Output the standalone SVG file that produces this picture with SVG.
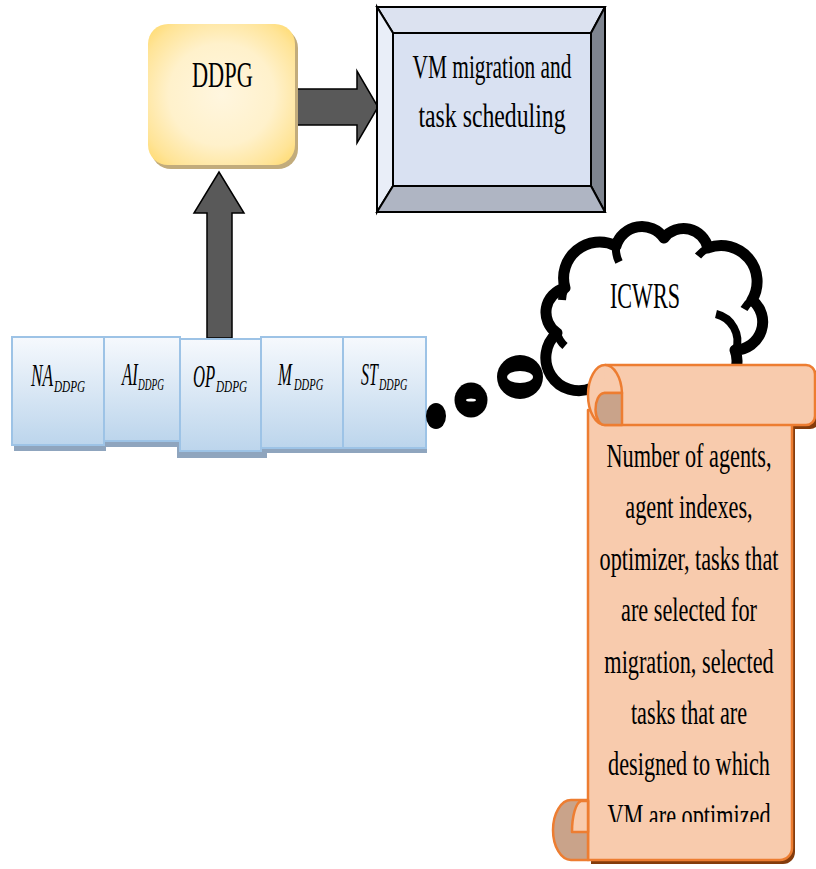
<svg xmlns="http://www.w3.org/2000/svg" width="816" height="869" viewBox="0 0 816 869">
  <style>
    .lbl { font-family: "Liberation Serif", "Times New Roman", serif; fill: #000; }
    .it { font-style: italic; }
    .mid { text-anchor: middle; }
    .cell { stroke: #9DC3E6; stroke-width: 2; fill: url(#cellFill); }
    .cellShadow { fill: #8FA5BE; }
    .bigArrow { fill: #595959; stroke: #000; stroke-width: 1.5; stroke-linejoin: miter; }
    .bevel { stroke: #000; stroke-width: 2; stroke-linejoin: miter; }
    .scroll { fill: #F8CBAD; stroke: #ED7D31; stroke-width: 2.5; stroke-linejoin: round; }
    .curl { fill: #C9A38A; stroke: #ED7D31; stroke-width: 2.5; stroke-linejoin: round; }
    .scrollShadow { fill: #843C0C; }
    .cloud { fill: #fff; stroke: #000; stroke-width: 11; stroke-linejoin: round; }
    .cloudInner { fill: none; stroke: #000; stroke-width: 8; stroke-linecap: butt; }
  </style>
  <defs>
    <linearGradient id="cellFill" x1="0" y1="0" x2="0" y2="1">
      <stop offset="0" stop-color="#F6F9FD"/>
      <stop offset="1" stop-color="#BCD5EC"/>
    </linearGradient>
    <radialGradient id="goldFill" cx="0.5" cy="0.5" r="0.72">
      <stop offset="0" stop-color="#FFF6DF"/>
      <stop offset="0.5" stop-color="#FFF1CB"/>
      <stop offset="0.8" stop-color="#FFE497"/>
      <stop offset="1" stop-color="#FFD762"/>
    </radialGradient>
    <clipPath id="scrollText">
      <rect x="588" y="430" width="204" height="392"/>
    </clipPath>
  </defs>

  <!-- connectors: block arrows -->
  <g id="connectors">
    <path class="bigArrow" d="M207,338 V213 H194 L219,172 L244,213 H232 V338 Z"/>
    <path class="bigArrow" d="M294,89 H357 V71 L378,107 L357,143 V125 H294 Z"/>
  </g>

  <!-- DDPG block -->
  <g id="ddpg">
    <rect x="151" y="28" width="147" height="141" rx="20" fill="#C2AC7C"/>
    <rect x="148" y="24" width="147" height="141" rx="20" fill="url(#goldFill)"/>
    <text class="lbl" transform="translate(192,87) scale(0.62,1)" font-size="36">DDPG</text>
  </g>

  <!-- VM migration block (bevelled frame) -->
  <g id="vm">
    <polygon class="bevel" points="377,7 605,7 591,33 393,33" fill="#DCE2F0"/>
    <polygon class="bevel" points="377,7 393,33 393,186 377,212" fill="#E9EEF8"/>
    <polygon class="bevel" points="605,7 605,212 591,186 591,33" fill="#7E848F"/>
    <polygon class="bevel" points="377,212 393,186 591,186 605,212" fill="#AFB5C3"/>
    <rect class="bevel" x="393" y="33" width="198" height="153" fill="#D9E1F2"/>
    <text class="lbl mid" transform="translate(492,78) scale(0.647,1)" font-size="33">VM migration and</text>
    <text class="lbl mid" transform="translate(492,127) scale(0.72,1)" font-size="33">task scheduling</text>
  </g>

  <!-- drop shadows of the parameter cells -->
  <g id="cell-shadows">
    <rect class="cellShadow" x="14" y="343" width="92" height="108"/>
    <rect class="cellShadow" x="106" y="343" width="76" height="104"/>
    <rect class="cellShadow" x="177" y="346" width="90" height="112"/>
    <rect class="cellShadow" x="263" y="343" width="82" height="110"/>
    <rect class="cellShadow" x="345" y="343" width="82" height="110"/>
  </g>
  <g id="cell-na">
    <rect class="cell" x="12" y="337" width="92" height="108"/>
    <text class="lbl it" transform="translate(31,386) scale(0.54,1)" font-size="32">NA</text>
    <text class="lbl it" transform="translate(54,392) scale(0.66,1)" font-size="17">DDPG</text>
  </g>
  <g id="cell-ai">
    <rect class="cell" x="104" y="337" width="76" height="104"/>
    <text class="lbl it" transform="translate(122,385) scale(0.52,1)" font-size="32">AI</text>
    <text class="lbl it" transform="translate(138,390) scale(0.55,1)" font-size="17">DDPG</text>
  </g>
  <g id="cell-op">
    <rect class="cell" x="180" y="339" width="81" height="112"/>
    <text class="lbl it" transform="translate(193,387) scale(0.52,1)" font-size="32">OP</text>
    <text class="lbl it" transform="translate(216,392) scale(0.66,1)" font-size="17">DDPG</text>
  </g>
  <g id="cell-m">
    <rect class="cell" x="261" y="337" width="82" height="111"/>
    <text class="lbl it" transform="translate(278,385) scale(0.52,1)" font-size="32">M</text>
    <text class="lbl it" transform="translate(294,390) scale(0.62,1)" font-size="17">DDPG</text>
  </g>
  <g id="cell-st">
    <rect class="cell" x="343" y="337" width="83" height="111"/>
    <text class="lbl it" transform="translate(361,385) scale(0.5,1)" font-size="32">ST</text>
    <text class="lbl it" transform="translate(379,390) scale(0.6,1)" font-size="17">DDPG</text>
  </g>

  <!-- thought bubble -->
  <g id="icwrs">
    <ellipse cx="436" cy="416" rx="10" ry="13" fill="#000"/>
    <ellipse cx="471" cy="400" rx="16.5" ry="17.5" fill="#000"/>
    <ellipse cx="471" cy="400" rx="5" ry="1.6" fill="#fff"/>
    <ellipse cx="520" cy="377" rx="23" ry="22" fill="#000"/>
    <ellipse cx="520" cy="377" rx="13" ry="6" fill="#fff"/>
    <path class="cloud" d="M592,388 A33,33 0 0 1 557,333 A25,25 0 0 1 565,288 A36,36 0 0 1 616,246 A27,27 0 0 1 664,238 A25,25 0 0 1 708,248 A36,36 0 0 1 752,300 A28,28 0 0 1 735,350 A30,30 0 0 1 700,390 A70,70 0 0 1 592,388 Z"/>
    <path class="cloudInner" d="M716,314 A28,28 0 0 1 736,350" stroke-width="11"/>
    <path class="cloudInner" d="M557,333 A25,25 0 0 0 565,346"/>
    <path class="cloudInner" d="M565,288 A30,30 0 0 0 562,300"/>
    <path class="cloudInner" d="M616,246 A30,30 0 0 0 619,262"/>
    <path class="cloudInner" d="M708,248 A30,30 0 0 0 698,256"/>
    <path class="cloudInner" d="M752,300 A30,30 0 0 0 744,309"/>
    <text class="lbl" transform="translate(610,308) scale(0.614,1)" font-size="36">ICWRS</text>
  </g>

  <!-- scroll with the description -->
  <g id="scroll">
    <path class="scrollShadow" d="M591,414 V864 H783 A12,12 0 0 0 795,852 V424 Z"/>
    <path class="scrollShadow" d="M608,369 H810 A10,10 0 0 1 820,379 V419 A10,10 0 0 1 810,429 H608 Z"/>
    <path class="scroll" d="M588,410 V860 H780 A12,12 0 0 0 792,848 V420 Z"/>
    <path class="scroll" d="M605,365 H806 A9,9 0 0 1 815,374 V416 A9,9 0 0 1 806,425 H605 A17,30 0 0 1 605,365 Z"/>
    <path class="scroll" d="M605,365 A17,30 0 0 1 622,393 H604" fill="none"/>
    <path class="curl" d="M604,393 H622 V425 H605 A9,16 0 0 1 604,393 Z"/>
    <path class="curl" d="M571,800 H588 V860 H571 A18,30 0 0 1 571,800 Z"/>
    <path class="scroll" d="M588,801 H581 A10,31 0 0 0 572,832 H588 Z"/>
    <g clip-path="url(#scrollText)" class="lbl mid" font-size="34">
      <text transform="translate(689,467) scale(0.655,1)">Number of agents,</text>
      <text transform="translate(689,518) scale(0.655,1)">agent indexes,</text>
      <text transform="translate(689,570) scale(0.655,1)">optimizer, tasks that</text>
      <text transform="translate(689,621) scale(0.655,1)">are selected for</text>
      <text transform="translate(689,673) scale(0.655,1)">migration, selected</text>
      <text transform="translate(689,724) scale(0.655,1)">tasks that are</text>
      <text transform="translate(689,775) scale(0.655,1)">designed to which</text>
      <text transform="translate(689,827) scale(0.655,1)">VM are optimized</text>
    </g>
  </g>
</svg>
